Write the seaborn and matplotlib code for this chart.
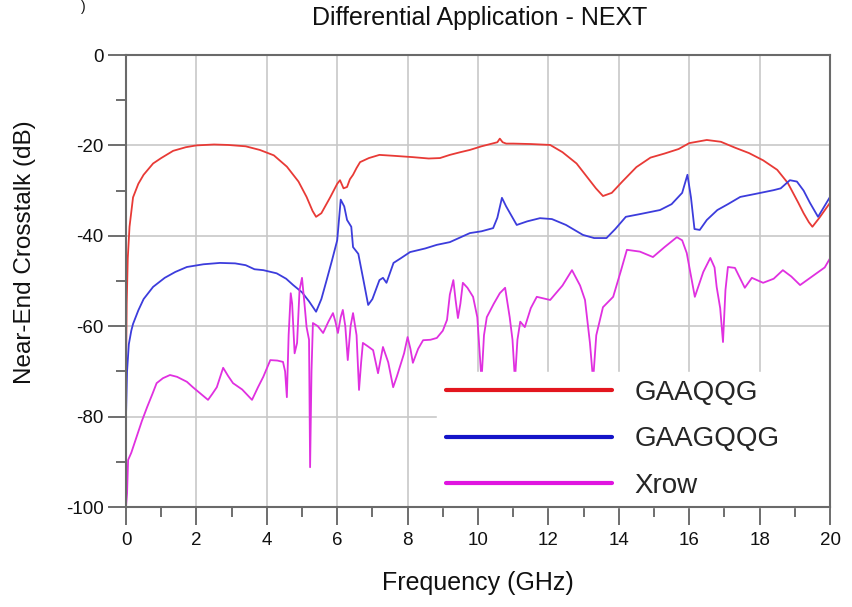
import numpy as np
import pandas as pd
import matplotlib
matplotlib.use("Agg")
import matplotlib.pyplot as plt
from matplotlib.lines import Line2D
from matplotlib.ticker import MultipleLocator
import seaborn as sns

# GAAQQG (red)
red_x = [0, 0.02, 0.05, 0.1, 0.2, 0.35, 0.5, 0.77, 1.0, 1.34, 1.7, 2.0, 2.5, 2.9, 3.4, 3.8,
         4.2, 4.57, 4.9, 5.13, 5.3, 5.4, 5.55, 5.8, 6.0, 6.08, 6.18, 6.28, 6.36, 6.45, 6.55,
         6.65, 6.9, 7.2, 7.6, 8.15, 8.6, 8.92, 9.2, 9.5, 9.77, 10.1, 10.4, 10.55, 10.62, 10.7,
         10.8, 11.0, 11.5, 12.05, 12.4, 12.8, 13.1, 13.35, 13.55, 13.8, 14.1, 14.5, 14.9, 15.3,
         15.7, 16.0, 16.5, 16.9, 17.3, 17.7, 18.1, 18.5, 18.8, 19.1, 19.25, 19.4, 19.5, 19.7, 20.0]
red_y = [-70, -55, -45, -38, -31.5, -28.5, -26.5, -24, -22.8, -21.2, -20.4, -20, -19.8, -19.9,
         -20.2, -21, -22.2, -24.7, -28, -31.4, -34.5, -35.8, -35, -31.5, -28.5, -27.7, -29.5,
         -29.2, -27.5, -26.5, -25, -23.7, -22.8, -22.1, -22.3, -22.6, -22.9, -22.8, -22.1, -21.5,
         -21, -20.2, -19.6, -19.3, -18.5, -19.3, -19.6, -19.6, -19.7, -19.9, -21.5, -24, -27,
         -29.5, -31.2, -30.5, -28, -24.8, -22.7, -21.8, -20.8, -19.5, -18.8, -19.2, -20.5, -21.7,
         -23.3, -25.4, -28.3, -32.7, -35, -37, -38, -36, -32.7]

# GAAGQQG (blue)
blue_x = [0, 0.03, 0.08, 0.15, 0.2, 0.35, 0.5, 0.77, 1.1, 1.4, 1.73, 2.2, 2.67, 3.1, 3.4, 3.65,
          3.9, 4.28, 4.55, 4.75, 5.0, 5.2, 5.4, 5.55, 5.7, 5.85, 6.0, 6.1, 6.2, 6.28, 6.4, 6.45,
          6.6, 6.75, 6.88, 7.0, 7.2, 7.3, 7.4, 7.6, 7.8, 8.07, 8.5, 8.83, 9.2, 9.77, 10.1, 10.43,
          10.55, 10.68, 10.8, 11.1, 11.4, 11.76, 12.1, 12.5, 12.98, 13.3, 13.65, 13.9, 14.2, 14.6,
          15.17, 15.5, 15.8, 15.95, 16.05, 16.15, 16.3, 16.5, 16.8, 17.1, 17.45, 17.9, 18.4, 18.6,
          18.86, 19.06, 19.25, 19.43, 19.66, 19.8, 20.0]
blue_y = [-80, -70, -64, -61, -59.5, -56.5, -54, -51.3, -49.3, -48, -46.9, -46.3, -46, -46.1,
          -46.5, -47.4, -47.6, -48.3, -49.5, -50.9, -52.5, -54.5, -56.8, -54, -49.8, -45.5, -41,
          -32, -33.5, -36.5, -38, -42.5, -44, -50, -55.3, -54, -49.8, -49.3, -50.4, -46, -45,
          -43.6, -42.8, -42, -41.4, -39.4, -39, -38.3, -36, -31.6, -33.5, -37.6, -36.8, -36.1,
          -36.3, -37.6, -39.8, -40.5, -40.5, -38.5, -35.8, -35.2, -34.3, -33, -30.5, -26.5, -31.5,
          -38.5, -38.7, -36.5, -34.3, -33, -31.4, -30.7, -29.9, -29.5, -27.7, -28, -30, -32.7,
          -35.8, -34, -31.4]

# Xrow (magenta)
mag_x = [0, 0.03, 0.06, 0.15, 0.3, 0.45, 0.6, 0.75, 0.87, 1.05, 1.25, 1.45, 1.73, 1.9, 2.1, 2.33,
         2.45, 2.58, 2.76, 2.9, 3.04, 3.3, 3.58, 3.75, 3.9, 4.1, 4.3, 4.46, 4.52, 4.57, 4.62, 4.68,
         4.72, 4.79, 4.86, 4.93, 5.0, 5.07, 5.13, 5.2, 5.23, 5.27, 5.31, 5.45, 5.6, 5.75, 5.88,
         5.95, 6.02, 6.1, 6.16, 6.23, 6.3, 6.38, 6.45, 6.55, 6.62, 6.68, 6.73, 6.88, 7.02, 7.16,
         7.3, 7.45, 7.59, 7.7, 7.78, 7.9, 8.0, 8.08, 8.15, 8.3, 8.44, 8.65, 8.83, 9.0, 9.12, 9.2,
         9.3, 9.36, 9.43, 9.5, 9.57, 9.7, 9.86, 9.98, 10.1, 10.17, 10.25, 10.45, 10.62, 10.77,
         10.9, 10.98, 11.05, 11.12, 11.2, 11.33, 11.5, 11.67, 12.05, 12.4, 12.67, 12.9, 13.04,
         13.18, 13.27, 13.36, 13.55, 13.84, 14.05, 14.23, 14.6, 14.97, 15.3, 15.65, 15.8, 15.93,
         16.16, 16.4, 16.6, 16.72, 16.78, 16.88, 16.96, 17.03, 17.1, 17.3, 17.58, 17.78, 18.1,
         18.4, 18.66, 18.9, 19.15, 19.4, 19.63, 19.85, 20.0]
mag_y = [-100, -97, -89.6, -88, -84.5, -81, -77.9, -75, -72.6, -71.5, -70.8, -71.2, -72.3, -73.5,
         -74.8, -76.3, -75, -73.5, -69.2, -71, -72.6, -74, -76.3, -73.5, -71.2, -67.5, -67.6,
         -67.9, -70, -75.7, -62, -52.7, -55, -66, -63.7, -52, -49.3, -55, -60.2, -63, -91.2, -70,
         -59.3, -60, -61.5, -59, -57.1, -59, -61.5, -58, -56.4, -60, -67.5, -60, -57.1, -62,
         -74.1, -68, -63.7, -64.5, -65.3, -70.4, -64.6, -68, -73.5, -71, -69, -66, -62.4, -65,
         -68.1, -65, -63.1, -63, -62.6, -61, -58.6, -53, -49.8, -54, -58.2, -55, -50.4, -51.5,
         -53.5, -58, -72, -62, -58, -55, -52.7, -51.5, -58, -63, -72, -63, -59, -60.2, -56,
         -53.5, -54.2, -51, -47.6, -51, -54.2, -63.7, -72, -62, -55.8, -53.5, -48, -43.1, -43.5,
         -44.7, -42.5, -40.3, -41, -43.8, -53.5, -48, -44.9, -47, -51.3, -56, -63.5, -52, -46.9,
         -47.1, -51.5, -49.3, -50.4, -49.5, -47.6, -49, -50.9, -49.5, -48.2, -47, -45]

series_names = ["GAAQQG", "GAAGQQG", "Xrow"]
line_colors = ["#e83a36", "#3c3cdc", "#e030e0"]
legend_colors = ["#e3161e", "#1414c8", "#e014e0"]

df = pd.concat([
    pd.DataFrame({"freq": red_x, "db": red_y, "series": series_names[0]}),
    pd.DataFrame({"freq": blue_x, "db": blue_y, "series": series_names[1]}),
    pd.DataFrame({"freq": mag_x, "db": mag_y, "series": series_names[2]}),
], ignore_index=True)

sns.set_theme(style="white")
plt.rcParams["font.family"] = ["Liberation Sans", "DejaVu Sans"]
plt.rcParams["axes.unicode_minus"] = False

fig = plt.figure(figsize=(8.52, 6.07), dpi=100)
ax = fig.add_axes([126 / 852, 1 - 507 / 607, 704 / 852, 452 / 607])

sns.lineplot(data=df, x="freq", y="db", hue="series", palette=dict(zip(series_names, line_colors)),
             estimator=None, sort=False, linewidth=1.3, legend=False, ax=ax)

ax.set_xlim(0, 20)
ax.set_ylim(-100, 0)
ax.xaxis.set_major_locator(MultipleLocator(2))
ax.xaxis.set_minor_locator(MultipleLocator(1))
ax.yaxis.set_major_locator(MultipleLocator(20))
ax.yaxis.set_minor_locator(MultipleLocator(10))
ax.grid(True, which="major", color="#c8c8c8", linewidth=1.2)
ax.set_axisbelow(True)

ax.tick_params(which="major", direction="out", length=13, width=1.2, color="#555555",
               labelsize=13.5, labelcolor="#111111", pad=5)
ax.tick_params(which="minor", direction="out", length=7, width=1.2, color="#555555")
ax.tick_params(axis="y", which="major", pad=3)
ax.tick_params(bottom=True, left=True, which="both")

for side in ["left", "bottom", "top", "right"]:
    ax.spines[side].set_color("#6a6a6a")
    ax.spines[side].set_linewidth(1.5)
    ax.spines[side].set_zorder(6)

ax.set_xlabel("Frequency (GHz)", fontsize=18, color="#111111")
ax.set_ylabel("Near-End Crosstalk (dB)", fontsize=17.5, color="#111111")
ax.xaxis.set_label_coords(0.5, -0.142)
ax.yaxis.set_label_coords(-0.128, 0.564)

fig.text(480 / 852, 1 - 18 / 607, "Differential Application - NEXT", ha="center", va="center",
         fontsize=18, color="#111111")
fig.text(83 / 852, 1.0, ")", ha="center", va="top", fontsize=10, color="#111111")

handles = [Line2D([0], [0], color=c, linewidth=3) for c in legend_colors]
leg = ax.legend(handles, series_names, loc="lower left", bbox_to_anchor=(0.442, 0.0, 0.556, 0.3),
                mode="expand", fontsize=20, handlelength=6.0, handletextpad=0.8,
                labelspacing=0.73, borderpad=0.3, borderaxespad=0, frameon=True, fancybox=False)
leg.get_frame().set_facecolor("white")
leg.get_frame().set_edgecolor("white")
leg.get_frame().set_alpha(1)

plt.savefig("out.png", dpi=100, facecolor="white")
